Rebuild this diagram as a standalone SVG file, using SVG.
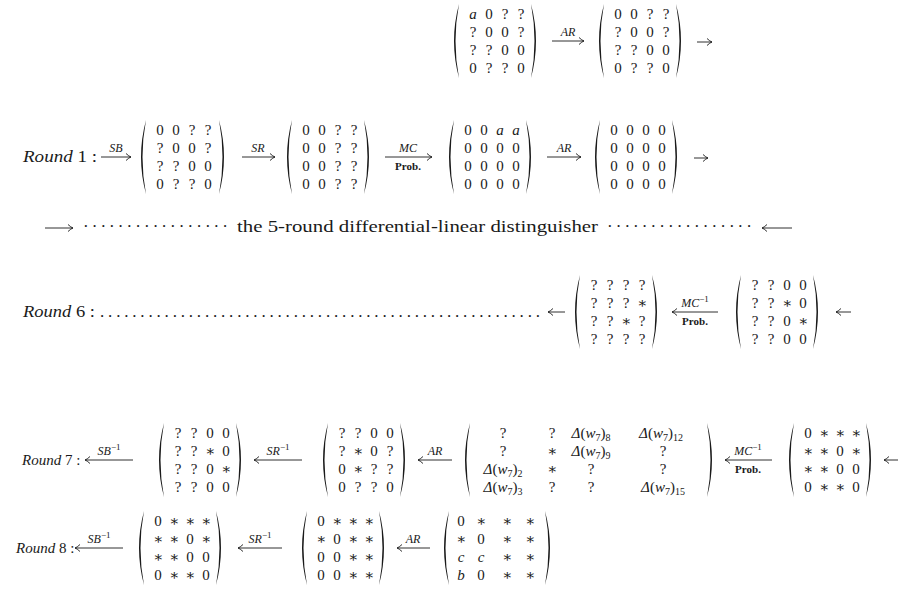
<svg xmlns="http://www.w3.org/2000/svg" xmlns:xlink="http://www.w3.org/1999/xlink" width="920" height="593" viewBox="0 0 920 593">
<defs>
<style>
text { font-family: "Liberation Serif", "DejaVu Serif", serif; fill: #1a1a1a; }
.m { font-size: 15px; text-anchor: middle; }
.it { font-style: italic; }
.lbl { font-size: 12px; font-style: italic; text-anchor: middle; }
.sup { font-size: 9px; font-style: normal; }
.prob { font-size: 11px; font-weight: bold; text-anchor: middle; }
.rnd { font-size: 17px; }
.rnd2 { font-size: 15px; }
.sub { font-size: 10px; }
.arr { stroke: #1a1a1a; stroke-width: 0.9; fill: none; marker-end: url(#ah); }
.par { fill: #1a1a1a; }
</style>
<marker id="ah" viewBox="-6 -4 7 8" markerWidth="7" markerHeight="8" refX="0" refY="0" orient="auto" markerUnits="userSpaceOnUse">
<path d="M-5,-3.5 Q-2,-0.6 0,0 Q-2,0.6 -5,3.5" fill="none" stroke="#1a1a1a" stroke-width="0.9"/>
</marker>
<path id="lp" class="par" d="M7,0 Q-3,37 7,74 Q0,37 7,0Z"/>
<path id="rp" class="par" d="M0,0 Q10,37 0,74 Q7,37 0,0Z"/>
</defs>
<rect width="920" height="593" fill="#ffffff"/>

<g id="connectors">
<path class="arr" d="M552,41 H584"/>
<path class="arr" d="M697,42 H712"/>
<path class="arr" d="M101,157 H131"/>
<path class="arr" d="M242,157 H275"/>
<path class="arr" d="M385,157 H432"/>
<path class="arr" d="M547,157 H581"/>
<path class="arr" d="M694,158 H708"/>
<path class="arr" d="M45,228 H73"/>
<path class="arr" d="M792,228 H762"/>
<path class="arr" d="M565,312 H548"/>
<path class="arr" d="M718,312 H672"/>
<path class="arr" d="M851,312 H836"/>
<path class="arr" d="M133,460 H85"/>
<path class="arr" d="M302,460 H254"/>
<path class="arr" d="M452,460 H418"/>
<path class="arr" d="M772,460 H725"/>
<path class="arr" d="M898,460 H884"/>
<path class="arr" d="M123,548 H75"/>
<path class="arr" d="M282,548 H238"/>
<path class="arr" d="M430,548 H397"/>
</g>

<g id="arrow-labels">
<text class="lbl" x="568" y="36">AR</text>
<text class="lbl" x="116" y="152">SB</text>
<text class="lbl" x="258" y="152">SR</text>
<text class="lbl" x="408" y="152">MC</text>
<text class="prob" x="408" y="170">Prob.</text>
<text class="lbl" x="564" y="152">AR</text>
<text class="lbl" x="695" y="307">MC<tspan class="sup" dy="-5">−1</tspan></text>
<text class="prob" x="695" y="325">Prob.</text>
<text class="lbl" x="109" y="455">SB<tspan class="sup" dy="-5">−1</tspan></text>
<text class="lbl" x="278" y="455">SR<tspan class="sup" dy="-5">−1</tspan></text>
<text class="lbl" x="435" y="455">AR</text>
<text class="lbl" x="748" y="455">MC<tspan class="sup" dy="-5">−1</tspan></text>
<text class="prob" x="748" y="473">Prob.</text>
<text class="lbl" x="99" y="543">SB<tspan class="sup" dy="-5">−1</tspan></text>
<text class="lbl" x="260" y="543">SR<tspan class="sup" dy="-5">−1</tspan></text>
<text class="lbl" x="413" y="543">AR</text>
</g>

<g id="round-labels">
<text class="rnd" x="23" y="162" textLength="74" lengthAdjust="spacingAndGlyphs"><tspan class="it">Round</tspan> 1 :</text>
<text class="rnd" x="23" y="317" textLength="72" lengthAdjust="spacingAndGlyphs"><tspan class="it">Round</tspan> 6 :</text>
<text class="rnd" x="100" y="317" textLength="440" lengthAdjust="spacing">.......................................................</text>
<text class="rnd2" x="22" y="465"><tspan class="it">Round</tspan> 7 :</text>
<text class="rnd2" x="16" y="553"><tspan class="it">Round</tspan> 8 :</text>
</g>

<g id="distinguisher">
<text class="rnd" x="83" y="232" textLength="145" lengthAdjust="spacing">·················</text>
<text class="rnd" x="237" y="232" textLength="361" lengthAdjust="spacingAndGlyphs">the 5-round differential-linear distinguisher</text>
<text class="rnd" x="607" y="232" textLength="145" lengthAdjust="spacing">·················</text>
</g>

<g id="top-m1">
<use href="#lp" x="452" y="4"/><use href="#rp" x="531" y="4"/>
<text class="m" y="19"><tspan class="it" x="473">a</tspan><tspan x="489 505 521">0??</tspan></text>
<text class="m" y="37" x="473 489 505 521">?00?</text>
<text class="m" y="55" x="473 489 505 521">??00</text>
<text class="m" y="73" x="473 489 505 521">0??0</text>
</g>
<g id="top-m2">
<use href="#lp" x="597" y="4"/><use href="#rp" x="676" y="4"/>
<text class="m" y="19" x="618 634 650 666">00??</text>
<text class="m" y="37" x="618 634 650 666">?00?</text>
<text class="m" y="55" x="618 634 650 666">??00</text>
<text class="m" y="73" x="618 634 650 666">0??0</text>
</g>

<g id="r1-m1">
<use href="#lp" x="139" y="120"/><use href="#rp" x="219" y="120"/>
<text class="m" y="135" x="160 176 192 208">00??</text>
<text class="m" y="153" x="160 176 192 208">?00?</text>
<text class="m" y="171" x="160 176 192 208">??00</text>
<text class="m" y="189" x="160 176 192 208">0??0</text>
</g>
<g id="r1-m2">
<use href="#lp" x="285" y="120"/><use href="#rp" x="364" y="120"/>
<text class="m" y="135" x="306 322 338 354">00??</text>
<text class="m" y="153" x="306 322 338 354">00??</text>
<text class="m" y="171" x="306 322 338 354">00??</text>
<text class="m" y="189" x="306 322 338 354">00??</text>
</g>
<g id="r1-m3">
<use href="#lp" x="447" y="120"/><use href="#rp" x="526" y="120"/>
<text class="m" y="135"><tspan x="468 484">00</tspan><tspan class="it" x="500 516">aa</tspan></text>
<text class="m" y="153" x="468 484 500 516">0000</text>
<text class="m" y="171" x="468 484 500 516">0000</text>
<text class="m" y="189" x="468 484 500 516">0000</text>
</g>
<g id="r1-m4">
<use href="#lp" x="593" y="120"/><use href="#rp" x="672" y="120"/>
<text class="m" y="135" x="614 630 646 662">0000</text>
<text class="m" y="153" x="614 630 646 662">0000</text>
<text class="m" y="171" x="614 630 646 662">0000</text>
<text class="m" y="189" x="614 630 646 662">0000</text>
</g>

<g id="r6-m1">
<use href="#lp" x="573" y="275"/><use href="#rp" x="652" y="275"/>
<text class="m" y="290" x="594 610 626 642">????</text>
<text class="m" y="308" x="594 610 626 642">???∗</text>
<text class="m" y="326" x="594 610 626 642">??∗?</text>
<text class="m" y="344" x="594 610 626 642">????</text>
</g>
<g id="r6-m2">
<use href="#lp" x="734" y="275"/><use href="#rp" x="813" y="275"/>
<text class="m" y="290" x="755 771 787 803">??00</text>
<text class="m" y="308" x="755 771 787 803">??∗0</text>
<text class="m" y="326" x="755 771 787 803">??0∗</text>
<text class="m" y="344" x="755 771 787 803">??00</text>
</g>

<g id="r7-m1">
<use href="#lp" x="157" y="423"/><use href="#rp" x="236" y="423"/>
<text class="m" y="438" x="178 194 210 226">??00</text>
<text class="m" y="456" x="178 194 210 226">??∗0</text>
<text class="m" y="474" x="178 194 210 226">??0∗</text>
<text class="m" y="492" x="178 194 210 226">??00</text>
</g>
<g id="r7-m2">
<use href="#lp" x="321" y="423"/><use href="#rp" x="400" y="423"/>
<text class="m" y="438" x="342 358 374 390">??00</text>
<text class="m" y="456" x="342 358 374 390">?∗0?</text>
<text class="m" y="474" x="342 358 374 390">0∗??</text>
<text class="m" y="492" x="342 358 374 390">0??0</text>
</g>
<g id="r7-m3">
<use href="#lp" x="463" y="423"/><use href="#rp" x="707" y="423"/>
<text class="m" y="438" x="503 552">??</text>
<text class="m" x="591" y="438"><tspan class="it">Δ</tspan>(<tspan class="it">w</tspan><tspan class="sub" dy="3">7</tspan><tspan dy="-3">)</tspan><tspan class="sub" dy="3">8</tspan></text>
<text class="m" x="661" y="438"><tspan class="it">Δ</tspan>(<tspan class="it">w</tspan><tspan class="sub" dy="3">7</tspan><tspan dy="-3">)</tspan><tspan class="sub" dy="3">12</tspan></text>
<text class="m" y="456" x="503 552">?∗</text>
<text class="m" x="591" y="456"><tspan class="it">Δ</tspan>(<tspan class="it">w</tspan><tspan class="sub" dy="3">7</tspan><tspan dy="-3">)</tspan><tspan class="sub" dy="3">9</tspan></text>
<text class="m" y="456" x="663">?</text>
<text class="m" x="503" y="474"><tspan class="it">Δ</tspan>(<tspan class="it">w</tspan><tspan class="sub" dy="3">7</tspan><tspan dy="-3">)</tspan><tspan class="sub" dy="3">2</tspan></text>
<text class="m" y="474" x="552 591 663">∗??</text>
<text class="m" x="503" y="492"><tspan class="it">Δ</tspan>(<tspan class="it">w</tspan><tspan class="sub" dy="3">7</tspan><tspan dy="-3">)</tspan><tspan class="sub" dy="3">3</tspan></text>
<text class="m" y="492" x="552 591">??</text>
<text class="m" x="663" y="492"><tspan class="it">Δ</tspan>(<tspan class="it">w</tspan><tspan class="sub" dy="3">7</tspan><tspan dy="-3">)</tspan><tspan class="sub" dy="3">15</tspan></text>
</g>
<g id="r7-m4">
<use href="#lp" x="787" y="423"/><use href="#rp" x="866" y="423"/>
<text class="m" y="438" x="808 824 840 856">0∗∗∗</text>
<text class="m" y="456" x="808 824 840 856">∗∗0∗</text>
<text class="m" y="474" x="808 824 840 856">∗∗00</text>
<text class="m" y="492" x="808 824 840 856">0∗∗0</text>
</g>

<g id="r8-m1">
<use href="#lp" x="137" y="511"/><use href="#rp" x="216" y="511"/>
<text class="m" y="526" x="158 174 190 206">0∗∗∗</text>
<text class="m" y="544" x="158 174 190 206">∗∗0∗</text>
<text class="m" y="562" x="158 174 190 206">∗∗00</text>
<text class="m" y="580" x="158 174 190 206">0∗∗0</text>
</g>
<g id="r8-m2">
<use href="#lp" x="300" y="511"/><use href="#rp" x="379" y="511"/>
<text class="m" y="526" x="321 337 353 369">0∗∗∗</text>
<text class="m" y="544" x="321 337 353 369">∗0∗∗</text>
<text class="m" y="562" x="321 337 353 369">00∗∗</text>
<text class="m" y="580" x="321 337 353 369">00∗∗</text>
</g>
<g id="r8-m3">
<use href="#lp" x="442" y="511"/><use href="#rp" x="545" y="511"/>
<text class="m" y="526" x="461 481 507 530">0∗∗∗</text>
<text class="m" y="544" x="461 481 507 530">∗0∗∗</text>
<text class="m" y="562"><tspan class="it" x="461 481">cc</tspan><tspan x="507 530">∗∗</tspan></text>
<text class="m" y="580"><tspan class="it" x="461">b</tspan><tspan x="481 507 530">0∗∗</tspan></text>
</g>
</svg>
